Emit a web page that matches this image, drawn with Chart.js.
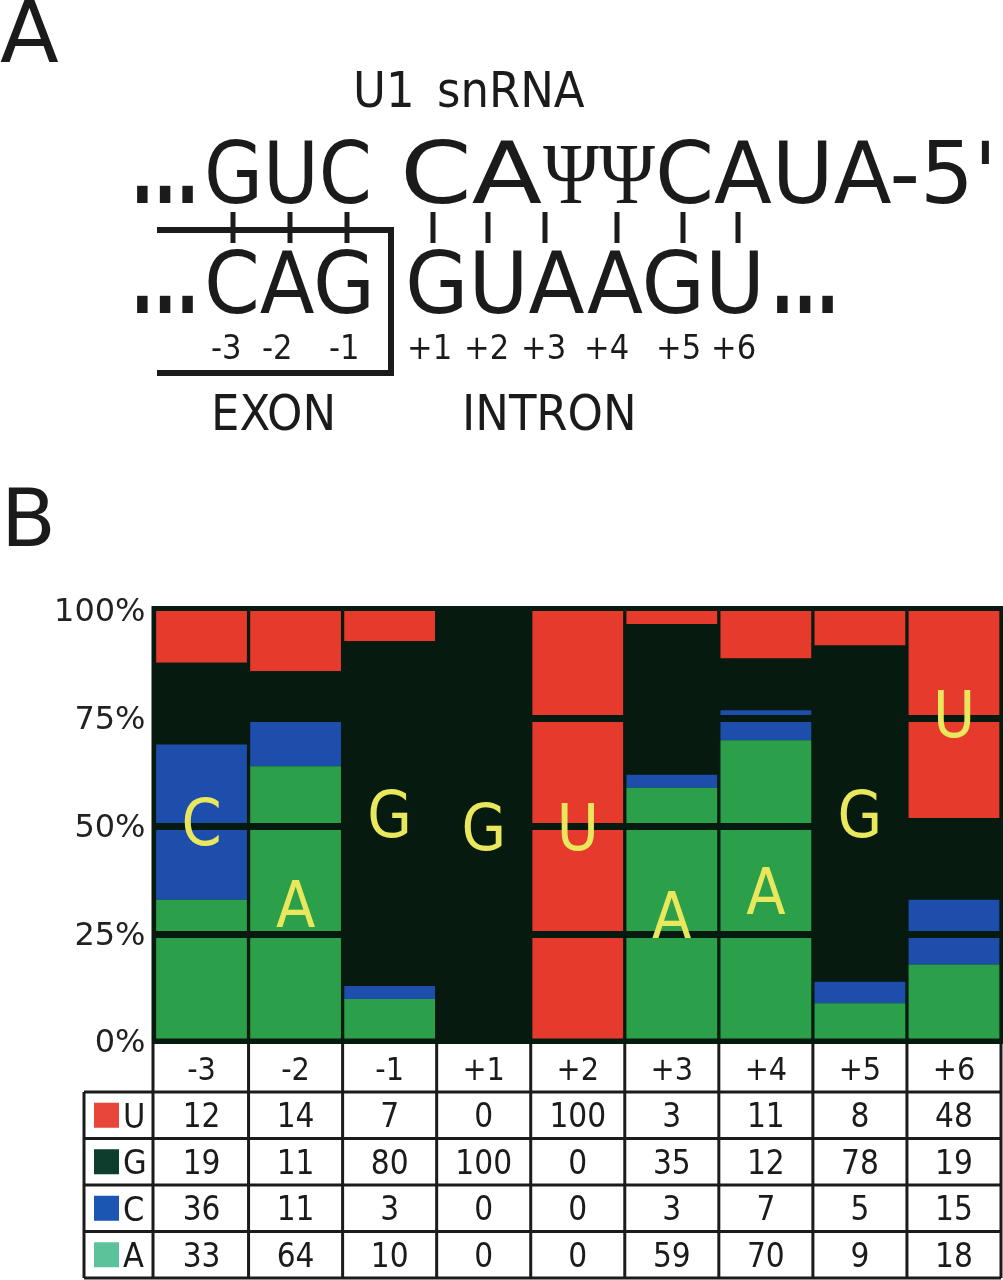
<!DOCTYPE html>
<html>
<head>
<meta charset="utf-8">
<script src="https://cdn.jsdelivr.net/npm/chart.js@4/dist/chart.umd.min.js"></script>
<style>
  html, body { margin: 0; background: #fff; }
  #wrap { width: 1003px; height: 1280px; }
</style>
</head>
<body>
<div id="wrap"><canvas id="chart" width="1003" height="1280"></canvas></div>
<script>
// splice site positions and base frequencies (%)
const positions = ["-3", "-2", "-1", "+1", "+2", "+3", "+4", "+5", "+6"];
const bases = ["U", "G", "C", "A"];
const uValues = [12, 14, 7, 0, 100, 3, 11, 8, 48];
const gValues = [19, 11, 80, 100, 0, 35, 12, 78, 19];
const cValues = [36, 11, 3, 0, 0, 3, 7, 5, 15];
const aValues = [33, 64, 10, 0, 0, 59, 70, 9, 18];
const yTicks = [0, 25, 50, 75, 100];
const lineMarks = [25, 50, 75];

const valuesByBase = { U: uValues, G: gValues, C: cValues, A: aValues };

const barColors = { U: "#e63b2c", G: "#061a10", C: "#1e4eab", A: "#2b9f49" };
const swatchColors = { U: "#e8463a", G: "#0f3d2d", C: "#1b56b2", A: "#5cc29a" };
const plotDark = "#061a10";
const ink = "#1b1b1b";
const cond = '"DejaVu Sans Condensed", "DejaVu Sans", sans-serif';

// stack bottom to top: A, C, G, U
const stackOrder = ["A", "C", "G", "U"];

function fitText(ctx, s, x, y, font, w) {
  ctx.font = font;
  const m = ctx.measureText(s).width;
  ctx.save();
  ctx.translate(x, y);
  ctx.scale(w / m, 1);
  ctx.fillText(s, 0, 0);
  ctx.restore();
}

const plotBg = {
  id: "plotBg",
  beforeDatasetsDraw: (chart) => {
    const { ctx, chartArea: a } = chart;
    ctx.save();
    ctx.fillStyle = plotDark;
    ctx.fillRect(a.left - 3, a.top - 5, a.right - a.left + 5, a.bottom - a.top + 7);
    ctx.restore();
  },
};

const overlay = {
  id: "overlay",
  afterDraw: (chart) => {
    const { ctx, chartArea: a } = chart;
    const x = chart.scales.x, y = chart.scales.y;
    const step = x.getPixelForValue(1) - x.getPixelForValue(0);
    ctx.save();

    // consensus letter in the middle of the biggest segment
    ctx.fillStyle = "#e9e85c";
    ctx.font = "64px " + cond;
    ctx.textAlign = "center";
    ctx.textBaseline = "alphabetic";
    positions.forEach((p, i) => {
      let best = stackOrder[0];
      stackOrder.forEach((b) => { if (valuesByBase[b][i] > valuesByBase[best][i]) best = b; });
      let base = 0;
      for (const b of stackOrder) { if (b === best) break; base += valuesByBase[b][i]; }
      const mid = y.getPixelForValue(base + valuesByBase[best][i] / 2);
      ctx.fillText(best, x.getPixelForValue(i), mid + 23);
    });

    // table under the chart
    const top = a.bottom + 2, headH = 48, rowH = 46.5;
    const tLeft = a.left - 1.5, tRight = a.right, labLeft = 84;
    const bottom = top + headH + rowH * bases.length;
    ctx.fillStyle = "#fff";
    ctx.fillRect(tLeft, top, tRight - tLeft, bottom - top);
    ctx.fillRect(labLeft, top + headH, tLeft - labLeft, bottom - top - headH);
    ctx.strokeStyle = ink;
    ctx.lineWidth = 3;
    ctx.beginPath();
    for (let i = 0; i <= positions.length; i++) {
      const lx = i === 0 ? tLeft : Math.min(x.getPixelForValue(i) - step / 2, tRight);
      ctx.moveTo(lx, top); ctx.lineTo(lx, bottom);
    }
    ctx.moveTo(labLeft, top + headH); ctx.lineTo(labLeft, bottom);
    for (let r = 0; r <= bases.length; r++) {
      const ly = top + headH + r * rowH;
      ctx.moveTo(labLeft, ly); ctx.lineTo(tRight, ly);
    }
    ctx.stroke();

    ctx.fillStyle = ink;
    ctx.textAlign = "center";
    ctx.font = "32px " + cond;
    positions.forEach((p, i) => ctx.fillText(p, x.getPixelForValue(i), top + headH / 2 + 12));
    ctx.font = "33px " + cond;
    bases.forEach((b, r) => {
      const cy = top + headH + r * rowH + rowH / 2;
      valuesByBase[b].forEach((v, i) => ctx.fillText(String(v), x.getPixelForValue(i), cy + 12));
      ctx.fillStyle = swatchColors[b];
      ctx.fillRect(94, cy - 12.5, 25, 25);
      ctx.fillStyle = ink;
      ctx.textAlign = "left";
      ctx.font = "34px " + cond;
      ctx.fillText(b, 123, cy + 12.5);
      ctx.textAlign = "center";
      ctx.font = "33px " + cond;
    });

    // panel A: U1 snRNA / 5' splice site pairing
    ctx.textAlign = "left";
    ctx.fillStyle = ink;
    ctx.font = '86px "DejaVu Sans", sans-serif';
    ctx.fillText("A", 0, 62);
    ctx.font = '80px "DejaVu Sans", sans-serif';
    ctx.fillText("B", 1, 546);

    ctx.font = "50px " + cond;
    ctx.fillText("U1", 353, 107);
    ctx.fillText("snRNA", 437, 107);

    const big = "86px " + cond;
    const dots = "bold 90px " + cond;
    fitText(ctx, "...", 131, 203, dots, 68);
    fitText(ctx, "GUC", 204, 203, big, 168);
    fitText(ctx, "CA", 400, 203, big, 142);
    fitText(ctx, "\u03A8\u03A8", 543, 203, '86px "Liberation Serif", serif', 112);
    fitText(ctx, "CAUA-5'", 655, 203, big, 342);

    fitText(ctx, "...", 131, 313, dots, 68);
    fitText(ctx, "CAG", 204, 313, big, 171);
    fitText(ctx, "GUAAGU", 405, 313, big, 360);
    fitText(ctx, "...", 771, 313, dots, 68);

    const tickX = [233, 290, 347, 433, 488, 545, 617, 683, 738];
    tickX.forEach((tx) => ctx.fillRect(tx - 2.5, 212, 5, 31));

    ctx.lineWidth = 6;
    ctx.lineJoin = "miter";
    ctx.beginPath();
    ctx.moveTo(157, 230); ctx.lineTo(391, 230); ctx.lineTo(391, 373); ctx.lineTo(157, 373);
    ctx.stroke();

    const numX = [211, 262, 329, 407, 464, 521, 584, 656, 711];
    ctx.font = "34px " + cond;
    positions.forEach((p, i) => ctx.fillText(p, numX[i], 359));

    ctx.font = "50px " + cond;
    ctx.fillText("EXON", 211, 430);
    ctx.fillText("INTRON", 462, 430);

    ctx.restore();
  },
};

new Chart(document.getElementById("chart"), {
  type: "bar",
  data: {
    labels: positions,
    datasets: stackOrder.map((b) => ({
      label: b,
      data: valuesByBase[b],
      backgroundColor: barColors[b],
      borderWidth: 0,
      barPercentage: 0.965,
      categoryPercentage: 1,
    })),
  },
  options: {
    responsive: false,
    animation: false,
    devicePixelRatio: 1,
    layout: { padding: { left: 0, right: 2, top: 611, bottom: 238 } },
    plugins: { legend: { display: false }, tooltip: { enabled: false } },
    scales: {
      x: { display: false, stacked: true },
      y: {
        stacked: true,
        min: 0,
        max: 100,
        afterFit: (s) => { s.width = 154.5; },
        afterBuildTicks: (s) => { s.ticks = yTicks.map((v) => ({ value: v })); },
        ticks: {
          callback: (v) => v + "%",
          padding: 9,
          labelOffset: 2,
          color: "#222",
          font: { family: "DejaVu Sans", size: 32 },
        },
        grid: {
          z: 1,
          color: (c) => (lineMarks.includes(c.tick && c.tick.value) ? plotDark : "rgba(0,0,0,0)"),
          lineWidth: 7,
          drawTicks: false,
        },
        border: { display: false },
      },
    },
  },
  plugins: [plotBg, overlay],
});
</script>
</body>
</html>
